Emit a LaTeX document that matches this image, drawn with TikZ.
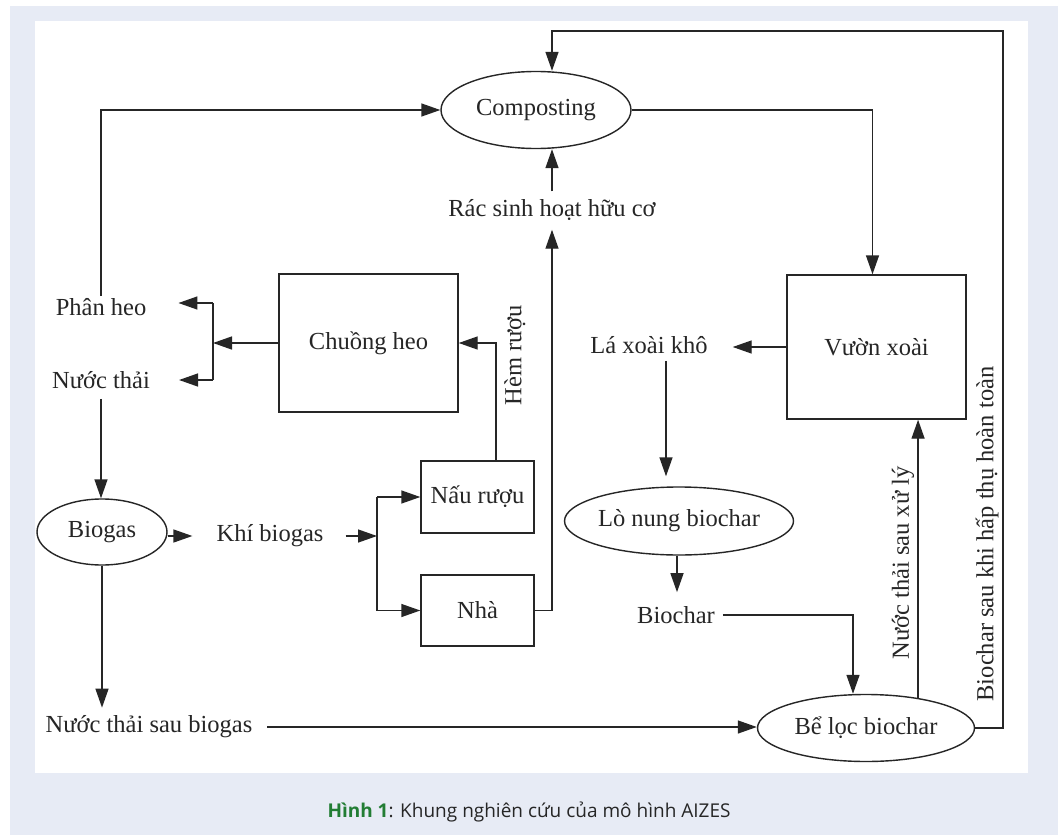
\documentclass[tikz,border=0pt]{standalone}
\usepackage{fontspec}
\setmainfont{Liberation Serif}
\newfontfamily\capfont{Open Sans}
\usetikzlibrary{arrows.meta,shapes.geometric,calc}
\definecolor{bgblue}{HTML}{E7EBF5}
\definecolor{capgreen}{RGB}{34,125,52}
\definecolor{ink}{HTML}{262626}
\begin{document}
\begin{tikzpicture}[x=1pt,y=-1pt,
  lbl/.style={font=\fontsize{24.5}{29}\selectfont, text=ink, inner sep=2pt},
  ell/.style={lbl, draw=ink, line width=1.4pt, ellipse, inner sep=0pt},
  box/.style={lbl, draw=ink, line width=1.4pt, rectangle, inner sep=0pt},
  conn/.style={draw=ink, line width=1.4pt},
  arr/.style={conn, -{Triangle[length=19pt,width=13pt]}}]
\useasboundingbox (0,0) rectangle (1058,835);
\fill[white] (0,0) rectangle (1058,835);
\fill[bgblue] (10,6) rectangle (1058,835);
\fill[white] (35,21) rectangle (1028,773);

% nodes
\node[ell, minimum width=190pt, minimum height=77pt] (comp) at (536,110) {Composting};
\node[lbl] (rac) at (552,210) {Rác sinh hoạt hữu cơ};
\node[lbl] (phan) at (101,307) {Phân heo};
\node[lbl] (nuoc) at (101,380) {Nước thải};
\node[box, minimum width=179pt, minimum height=138pt] (chuong) at (368.5,343) {Chuồng heo};
\node[box, minimum width=179pt, minimum height=144pt] (vuon) at (876.5,347) {Vườn xoài};
\node[lbl] (la) at (649,345) {Lá xoài khô};
\node[ell, minimum width=130pt, minimum height=66pt] (bio) at (102,532) {Biogas};
\node[lbl] (khi) at (270,536) {Khí biogas};
\node[box, minimum width=113pt, minimum height=72pt] (nau) at (477.5,497) {Nấu rượu};
\node[box, minimum width=113pt, minimum height=71pt] (nha) at (477.5,610.5) {Nhà};
\node[ell, minimum width=218pt, minimum height=68pt] (lo) at (679,521) {Lò nung biochar};
\node[lbl] (biochar) at (676,615) {Biochar};
\node[lbl] (nts) at (149,727) {Nước thải sau biogas};
\node[ell, minimum width=217pt, minimum height=67pt] (be) at (866,728) {Bể lọc biochar};
\node[lbl, rotate=90] (hem) at (515,355) {Hèm rượu};
\node[lbl, rotate=90] (ntx) at (903,563) {Nước thải sau xử lý};
\node[lbl, rotate=90] (bsk) at (987,534) {Biochar sau khi hấp thụ hoàn toàn};

\node[font=\capfont\fontsize{19}{23}\selectfont, text=ink] (cap) at (529,812)
  {\textbf{\color{capgreen}Hình 1}: Khung nghiên cứu của mô hình AIZES};

% connectors
\coordinate (topR) at (1003,31);
\coordinate (compIn) at ($(comp.north)+(16,0)$);
\draw[arr] (be.east) -| (topR) -| (compIn);
\draw[arr] (phan.north) |- (comp.west);
\draw[arr] (comp.east) -| ($(vuon.north)+(-4,0)$);
\draw[arr, shorten <=6pt] (rac.north) -- (rac.north |- comp.south);
\draw[arr, shorten >=7pt] (nha.east) -| (rac.south);
\draw[arr] ($(nau.north)+(18.5,0)$) |- (chuong.east);

\coordinate (brT) at (213,303);
\coordinate (brB) at (213,380);
\draw[arr] (chuong.west) -- (chuong.west -| brT);
\draw[conn] (brT) -- (brB);
\draw[arr] (brT) -- ($(brT -| phan.east)+(30,0)$);
\draw[arr] (brB) -- ($(brB -| nuoc.east)+(27,0)$);

\draw[arr, shorten <=8pt] (nuoc.south) -- (nuoc.south |- bio.north);
\draw[arr] (bio.east |- khi.west) -- ($(khi.west)+(-22,0)$);

\coordinate (brX) at (377,0);
\draw[arr] ($(khi.east)+(20,0)$) -- (brX |- khi.east);
\draw[conn] (brX |- nau.west) -- (brX |- nha.west);
\draw[arr] (brX |- nau.west) -- (nau.west);
\draw[arr] (brX |- nha.west) -- (nha.west);

\draw[arr, shorten >=6pt] (bio.south) -- (bio.south |- nts.north);
\draw[arr] ($(nts.east)+(13,0)$) -- (nts.east -| be.west);

\draw[arr] (vuon.west) -- ($(vuon.west -| la.east)+(23,0)$);
\draw[arr] ($(la.south)+(17,5)$) -- ($(lo.north)+(-13,-10)$);
\draw[arr, shorten >=12pt] ($(lo.south)+(-2,0)$) -- ($(lo.south |- biochar.north)+(-2,0)$);
\draw[arr] ($(biochar.east)+(6,0)$) -| ($(be.north)+(-13,0)$);
\draw[arr] (be.30) -- (be.30 |- vuon.south);
\end{tikzpicture}
\end{document}
